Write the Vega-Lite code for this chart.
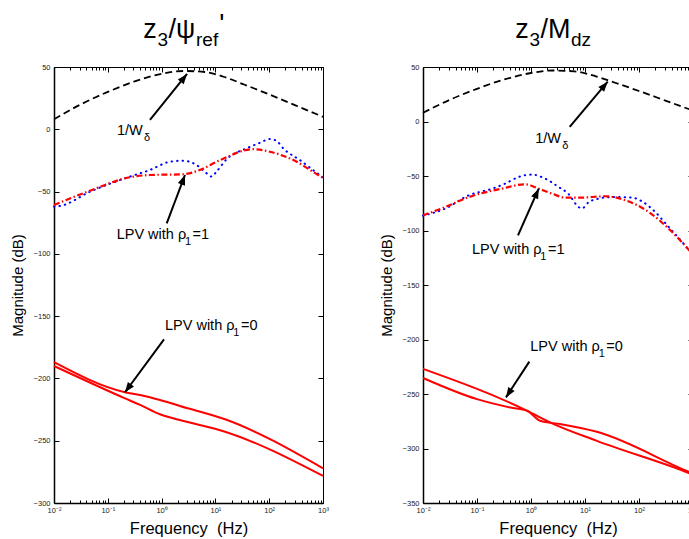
{
  "$schema": "https://vega.github.io/schema/vega-lite/v6.json",
  "background": "white",
  "padding": {"left": 10, "top": 10, "right": 0, "bottom": 0},
  "spacing": 50,
  "config": {
    "font": "Liberation Sans",
    "view": {"stroke": null},
    "axis": {"grid": false, "domainColor": "black", "tickColor": "black", "labelColor": "#222", "labelFontSize": 7.5, "labelFont": "Liberation Sans", "titleFont": "Liberation Sans", "titleFontWeight": "normal", "titleColor": "black", "labelOverlap": false, "labelFlush": false}
  },
  "datasets": {
    "left": [
      {"s": "w", "f": 0.01, "db": 8}, {"s": "w", "f": 0.03162, "db": 20}, {"s": "w", "f": 0.1, "db": 30}, {"s": "w", "f": 0.3162, "db": 38.5}, {"s": "w", "f": 1, "db": 44.5}, {"s": "w", "f": 2.512, "db": 46.8}, {"s": "w", "f": 6.31, "db": 46}, {"s": "w", "f": 15.85, "db": 41.5}, {"s": "w", "f": 31.62, "db": 36.5}, {"s": "w", "f": 100, "db": 28}, {"s": "w", "f": 316.2, "db": 19}, {"s": "w", "f": 1000, "db": 10},
      {"s": "b", "f": 0.01, "db": -62}, {"s": "b", "f": 0.01288, "db": -61.6}, {"s": "b", "f": 0.04677, "db": -50.1}, {"s": "b", "f": 0.257, "db": -38}, {"s": "b", "f": 0.6026, "db": -32.7}, {"s": "b", "f": 1.445, "db": -26}, {"s": "b", "f": 2.512, "db": -25.2}, {"s": "b", "f": 4.467, "db": -28.7}, {"s": "b", "f": 6.918, "db": -35.4}, {"s": "b", "f": 8.511, "db": -38}, {"s": "b", "f": 10.47, "db": -34}, {"s": "b", "f": 16.22, "db": -24}, {"s": "b", "f": 38.02, "db": -15.3}, {"s": "b", "f": 67.61, "db": -10.8}, {"s": "b", "f": 102.3, "db": -7.8}, {"s": "b", "f": 138, "db": -9.4}, {"s": "b", "f": 182, "db": -15.3}, {"s": "b", "f": 371.5, "db": -24.7}, {"s": "b", "f": 871, "db": -36.7}, {"s": "b", "f": 1000, "db": -38.5},
      {"s": "r", "f": 0.01, "db": -60.8}, {"s": "r", "f": 0.04677, "db": -49.3}, {"s": "r", "f": 0.257, "db": -38.5}, {"s": "r", "f": 0.6026, "db": -36.7}, {"s": "r", "f": 2.512, "db": -36.1}, {"s": "r", "f": 5.129, "db": -32.7}, {"s": "r", "f": 12.3, "db": -24.7}, {"s": "r", "f": 50.12, "db": -16}, {"s": "r", "f": 102.3, "db": -18}, {"s": "r", "f": 281.8, "db": -24.7}, {"s": "r", "f": 871, "db": -37.5}, {"s": "r", "f": 1000, "db": -39},
      {"s": "s1", "f": 0.01, "db": -187}, {"s": "s1", "f": 0.2089, "db": -211.1}, {"s": "s1", "f": 0.3981, "db": -213.3}, {"s": "s1", "f": 0.9333, "db": -217.3}, {"s": "s1", "f": 2.188, "db": -222.1}, {"s": "s1", "f": 15.14, "db": -232.8}, {"s": "s1", "f": 1000, "db": -272.2},
      {"s": "s2", "f": 0.01, "db": -190}, {"s": "s2", "f": 0.2089, "db": -216}, {"s": "s2", "f": 0.3981, "db": -221.3}, {"s": "s2", "f": 0.9333, "db": -228.8}, {"s": "s2", "f": 2.188, "db": -233.4}, {"s": "s2", "f": 15.14, "db": -242.8}, {"s": "s2", "f": 1000, "db": -278.3}
    ],
    "right": [
      {"s": "w", "f": 0.01, "db": 8}, {"s": "w", "f": 0.03162, "db": 20}, {"s": "w", "f": 0.1, "db": 30}, {"s": "w", "f": 0.3162, "db": 38.5}, {"s": "w", "f": 1, "db": 44.5}, {"s": "w", "f": 2.512, "db": 46.8}, {"s": "w", "f": 6.31, "db": 46}, {"s": "w", "f": 15.85, "db": 41.5}, {"s": "w", "f": 31.62, "db": 36.5}, {"s": "w", "f": 100, "db": 28}, {"s": "w", "f": 316.2, "db": 19}, {"s": "w", "f": 1000, "db": 10},
      {"s": "b", "f": 0.01, "db": -86.5}, {"s": "b", "f": 0.0257, "db": -79.9}, {"s": "b", "f": 0.07079, "db": -67.7}, {"s": "b", "f": 0.1905, "db": -61.6}, {"s": "b", "f": 0.3311, "db": -57}, {"s": "b", "f": 0.5888, "db": -50.9}, {"s": "b", "f": 1.047, "db": -48.7}, {"s": "b", "f": 1.82, "db": -52.4}, {"s": "b", "f": 3.236, "db": -60}, {"s": "b", "f": 5.012, "db": -66.8}, {"s": "b", "f": 7.079, "db": -76.9}, {"s": "b", "f": 8.71, "db": -79.9}, {"s": "b", "f": 11.75, "db": -73.9}, {"s": "b", "f": 17.78, "db": -70.8}, {"s": "b", "f": 31.62, "db": -69.3}, {"s": "b", "f": 74.13, "db": -69.8}, {"s": "b", "f": 104.7, "db": -72.3}, {"s": "b", "f": 199.5, "db": -83}, {"s": "b", "f": 354.8, "db": -96.8}, {"s": "b", "f": 631, "db": -110.6}, {"s": "b", "f": 912, "db": -119.8}, {"s": "b", "f": 1000, "db": -122},
      {"s": "r", "f": 0.01, "db": -86.1}, {"s": "r", "f": 0.0257, "db": -78.5}, {"s": "r", "f": 0.07079, "db": -69.3}, {"s": "r", "f": 0.2884, "db": -61.6}, {"s": "r", "f": 0.7762, "db": -57.6}, {"s": "r", "f": 1.38, "db": -61.6}, {"s": "r", "f": 2.455, "db": -66.2}, {"s": "r", "f": 4.365, "db": -69.9}, {"s": "r", "f": 7.586, "db": -69.9}, {"s": "r", "f": 23.99, "db": -68.6}, {"s": "r", "f": 56.23, "db": -72.3}, {"s": "r", "f": 151.4, "db": -83}, {"s": "r", "f": 354.8, "db": -98.3}, {"s": "r", "f": 912, "db": -119.8}, {"s": "r", "f": 1000, "db": -122},
      {"s": "s1", "f": 0.01, "db": -227}, {"s": "s1", "f": 0.8511, "db": -265.4}, {"s": "s1", "f": 2.291, "db": -276.2}, {"s": "s1", "f": 16.6, "db": -293}, {"s": "s1", "f": 891.3, "db": -323}, {"s": "s1", "f": 1000, "db": -324},
      {"s": "s2", "f": 0.01, "db": -235.3}, {"s": "s2", "f": 0.1, "db": -254.7}, {"s": "s2", "f": 0.4169, "db": -262.4}, {"s": "s2", "f": 0.8511, "db": -265.4}, {"s": "s2", "f": 1.479, "db": -274.6}, {"s": "s2", "f": 3.467, "db": -277.6}, {"s": "s2", "f": 16.6, "db": -284.7}, {"s": "s2", "f": 891.3, "db": -322}, {"s": "s2", "f": 1000, "db": -323}
    ]
  },
  "hconcat": [
    {
      "width": 269, "height": 436,
      "resolve": {"axis": {"x": "independent", "y": "independent"}},
      "layer": [
        {
          "data": {"name": "left"}, "transform": [{"filter": "datum.s == 'w'"}],
          "mark": {"type": "line", "color": "black", "strokeDash": [7, 4], "strokeWidth": 1.8, "interpolate": "monotone"},
          "encoding": {
            "x": {"field": "f", "type": "quantitative", "scale": {"type": "log", "domain": [0.01, 1000], "nice": false},
              "axis": {"values": [0.01,0.02,0.03,0.04,0.05,0.06,0.07,0.08,0.09,0.1,0.2,0.3,0.4,0.5,0.6,0.7,0.8,0.9,1,2,3,4,5,6,7,8,9,10,20,30,40,50,60,70,80,90,100,200,300,400,500,600,700,800,900,1000],
                "labelExpr": "abs(log(datum.value)/LN10 - round(log(datum.value)/LN10)) < 0.001 ? ['10⁻²','10⁻¹','10⁰','10¹','10²','10³'][round(log(datum.value)/LN10)+2] : ''",
                "tickSize": {"condition": {"test": "abs(log(datum.value)/LN10 - round(log(datum.value)/LN10)) < 0.001", "value": -5}, "value": -3},
                "labelPadding": 8, "domainWidth": 1.5, "title": "Frequency\u00a0 (Hz)", "titleFontSize": 16.5, "titlePadding": 5}},
            "y": {"field": "db", "type": "quantitative", "scale": {"domain": [-300, 50], "nice": false, "zero": false},
              "axis": {"values": [-300,-250,-200,-150,-100,-50,0,50], "tickSize": -5, "labelPadding": 9, "domainWidth": 1.5, "title": "Magnitude (dB)", "titleFontSize": 15, "titlePadding": 8}}
          }
        },
        {
          "data": {"name": "left"}, "transform": [{"filter": "datum.s == 'b'"}],
          "mark": {"type": "line", "color": "#0000ff", "strokeDash": [0.5, 5], "strokeCap": "round", "strokeWidth": 2, "interpolate": "monotone"},
          "encoding": {
            "x": {"field": "f", "type": "quantitative", "scale": {"type": "log", "domain": [0.01, 1000], "nice": false},
              "axis": {"orient": "top", "values": [0.01,0.02,0.03,0.04,0.05,0.06,0.07,0.08,0.09,0.1,0.2,0.3,0.4,0.5,0.6,0.7,0.8,0.9,1,2,3,4,5,6,7,8,9,10,20,30,40,50,60,70,80,90,100,200,300,400,500,600,700,800,900,1000],
                "labels": false, "title": null, "domainWidth": 1,
                "tickSize": {"condition": {"test": "abs(log(datum.value)/LN10 - round(log(datum.value)/LN10)) < 0.001", "value": -5}, "value": -3}}},
            "y": {"field": "db", "type": "quantitative", "scale": {"domain": [-300, 50], "nice": false, "zero": false},
              "axis": {"orient": "right", "values": [-300,-250,-200,-150,-100,-50,0,50], "labels": false, "title": null, "tickSize": -5, "domainWidth": 1}}
          }
        },
        {
          "data": {"name": "left"}, "transform": [{"filter": "datum.s == 'r'"}],
          "mark": {"type": "line", "color": "#ff0000", "strokeDash": [6, 2.5, 1.5, 2.5], "strokeWidth": 2.2, "interpolate": "monotone"},
          "encoding": {
            "x": {"field": "f", "type": "quantitative", "scale": {"type": "log", "domain": [0.01, 1000], "nice": false}, "axis": null},
            "y": {"field": "db", "type": "quantitative", "scale": {"domain": [-300, 50], "nice": false, "zero": false}, "axis": null}
          }
        },
        {
          "data": {"name": "left"}, "transform": [{"filter": "datum.s == 's1' || datum.s == 's2'"}],
          "mark": {"type": "line", "color": "#ff0000", "strokeWidth": 2, "interpolate": "monotone"},
          "encoding": {
            "x": {"field": "f", "type": "quantitative", "scale": {"type": "log", "domain": [0.01, 1000], "nice": false}, "axis": null},
            "y": {"field": "db", "type": "quantitative", "scale": {"domain": [-300, 50], "nice": false, "zero": false}, "axis": null},
            "detail": {"field": "s"}
          }
        },
        {
          "data": {"values": [{"f": 0.608, "db": 7.5, "f2": 2.97, "db2": 44.4}, {"f": 1.245, "db": -75.5, "f2": 2.72, "db2": -36.7}, {"f": 1.109, "db": -168.6, "f2": 0.209, "db2": -211.1}]},
          "mark": {"type": "rule", "color": "black", "strokeWidth": 2},
          "encoding": {
            "x": {"field": "f", "type": "quantitative", "scale": {"type": "log", "domain": [0.01, 1000], "nice": false}, "axis": null},
            "x2": {"field": "f2"},
            "y": {"field": "db", "type": "quantitative", "scale": {"domain": [-300, 50], "nice": false, "zero": false}, "axis": null},
            "y2": {"field": "db2"}
          }
        },
        {
          "data": {"values": [{"f": 2.97, "db": 44.4}]},
          "mark": {"type": "point", "shape": "M0,0L0.38,1L-0.38,1Z", "size": 400, "filled": true, "color": "black", "opacity": 1, "angle": 38.8},
          "encoding": {
            "x": {"field": "f", "type": "quantitative", "scale": {"type": "log", "domain": [0.01, 1000], "nice": false}, "axis": null},
            "y": {"field": "db", "type": "quantitative", "scale": {"domain": [-300, 50], "nice": false, "zero": false}, "axis": null}
          }
        },
        {
          "data": {"values": [{"f": 2.72, "db": -36.7}]},
          "mark": {"type": "point", "shape": "M0,0L0.38,1L-0.38,1Z", "size": 400, "filled": true, "color": "black", "opacity": 1, "angle": 20.8},
          "encoding": {
            "x": {"field": "f", "type": "quantitative", "scale": {"type": "log", "domain": [0.01, 1000], "nice": false}, "axis": null},
            "y": {"field": "db", "type": "quantitative", "scale": {"domain": [-300, 50], "nice": false, "zero": false}, "axis": null}
          }
        },
        {
          "data": {"values": [{"f": 0.209, "db": -211.1}]},
          "mark": {"type": "point", "shape": "M0,0L0.38,1L-0.38,1Z", "size": 400, "filled": true, "color": "black", "opacity": 1, "angle": 216.3},
          "encoding": {
            "x": {"field": "f", "type": "quantitative", "scale": {"type": "log", "domain": [0.01, 1000], "nice": false}, "axis": null},
            "y": {"field": "db", "type": "quantitative", "scale": {"domain": [-300, 50], "nice": false, "zero": false}, "axis": null}
          }
        },
        {
          "data": {"values": [{"f": 0.148, "db": -4.6, "t": "1/W"}, {"f": 0.146, "db": -88.1, "t": "LPV with ρ"}, {"f": 3.75, "db": -88.1, "t": "=1"}, {"f": 1.156, "db": -160.9, "t": "LPV with ρ"}, {"f": 29.9, "db": -160.9, "t": "=0"}]},
          "mark": {"type": "text", "align": "left", "baseline": "alphabetic", "fontSize": 14.5, "color": "black", "font": "Liberation Sans"},
          "encoding": {
            "x": {"field": "f", "type": "quantitative", "scale": {"type": "log", "domain": [0.01, 1000], "nice": false}, "axis": null},
            "y": {"field": "db", "type": "quantitative", "scale": {"domain": [-300, 50], "nice": false, "zero": false}, "axis": null},
            "text": {"field": "t"}
          }
        },
        {
          "data": {"values": [{"f": 0.471, "db": -9.4, "t": "δ"}, {"f": 2.72, "db": -92.9, "t": "1"}, {"f": 21.5, "db": -165.7, "t": "1"}]},
          "mark": {"type": "text", "align": "left", "baseline": "alphabetic", "fontSize": 11, "color": "black", "font": "Liberation Sans"},
          "encoding": {
            "x": {"field": "f", "type": "quantitative", "scale": {"type": "log", "domain": [0.01, 1000], "nice": false}, "axis": null},
            "y": {"field": "db", "type": "quantitative", "scale": {"domain": [-300, 50], "nice": false, "zero": false}, "axis": null},
            "text": {"field": "t"}
          }
        },
        {
          "data": {"values": [{"f": 0.457, "db": 73.3, "t": "z"}, {"f": 1.343, "db": 73.3, "t": "/ψ"}, {"f": 11.8, "db": 77.3, "t": "'"}]},
          "mark": {"type": "text", "align": "left", "baseline": "alphabetic", "fontSize": 27, "color": "black", "font": "Liberation Sans"},
          "encoding": {
            "x": {"field": "f", "type": "quantitative", "scale": {"type": "log", "domain": [0.01, 1000], "nice": false}, "axis": null},
            "y": {"field": "db", "type": "quantitative", "scale": {"domain": [-300, 50], "nice": false, "zero": false}, "axis": null},
            "text": {"field": "t"}
          }
        },
        {
          "data": {"values": [{"f": 0.839, "db": 66.9, "t": "3"}, {"f": 4.36, "db": 66.9, "t": "ref"}]},
          "mark": {"type": "text", "align": "left", "baseline": "alphabetic", "fontSize": 19, "color": "black", "font": "Liberation Sans"},
          "encoding": {
            "x": {"field": "f", "type": "quantitative", "scale": {"type": "log", "domain": [0.01, 1000], "nice": false}, "axis": null},
            "y": {"field": "db", "type": "quantitative", "scale": {"domain": [-300, 50], "nice": false, "zero": false}, "axis": null},
            "text": {"field": "t"}
          }
        }
      ]
    },
    {
      "width": 270, "height": 436,
      "resolve": {"axis": {"x": "independent", "y": "independent"}},
      "layer": [
        {
          "data": {"name": "right"}, "transform": [{"filter": "datum.s == 'w'"}],
          "mark": {"type": "line", "color": "black", "strokeDash": [7, 4], "strokeWidth": 1.8, "interpolate": "monotone"},
          "encoding": {
            "x": {"field": "f", "type": "quantitative", "scale": {"type": "log", "domain": [0.01, 1000], "nice": false},
              "axis": {"values": [0.01,0.02,0.03,0.04,0.05,0.06,0.07,0.08,0.09,0.1,0.2,0.3,0.4,0.5,0.6,0.7,0.8,0.9,1,2,3,4,5,6,7,8,9,10,20,30,40,50,60,70,80,90,100,200,300,400,500,600,700,800,900,1000],
                "labelExpr": "abs(log(datum.value)/LN10 - round(log(datum.value)/LN10)) < 0.001 ? ['10⁻²','10⁻¹','10⁰','10¹','10²','10³'][round(log(datum.value)/LN10)+2] : ''",
                "tickSize": {"condition": {"test": "abs(log(datum.value)/LN10 - round(log(datum.value)/LN10)) < 0.001", "value": -5}, "value": -3},
                "labelPadding": 8, "domainWidth": 1.5, "title": "Frequency\u00a0 (Hz)", "titleFontSize": 16.5, "titlePadding": 5}},
            "y": {"field": "db", "type": "quantitative", "scale": {"domain": [-350, 50], "nice": false, "zero": false},
              "axis": {"values": [-350,-300,-250,-200,-150,-100,-50,0,50], "tickSize": -5, "labelPadding": 9, "domainWidth": 1.5, "title": "Magnitude (dB)", "titleFontSize": 15, "titlePadding": 8}}
          }
        },
        {
          "data": {"name": "right"}, "transform": [{"filter": "datum.s == 'b'"}],
          "mark": {"type": "line", "color": "#0000ff", "strokeDash": [0.5, 5], "strokeCap": "round", "strokeWidth": 2, "interpolate": "monotone"},
          "encoding": {
            "x": {"field": "f", "type": "quantitative", "scale": {"type": "log", "domain": [0.01, 1000], "nice": false},
              "axis": {"orient": "top", "values": [0.01,0.02,0.03,0.04,0.05,0.06,0.07,0.08,0.09,0.1,0.2,0.3,0.4,0.5,0.6,0.7,0.8,0.9,1,2,3,4,5,6,7,8,9,10,20,30,40,50,60,70,80,90,100,200,300,400,500,600,700,800,900,1000],
                "labels": false, "title": null, "domainWidth": 1,
                "tickSize": {"condition": {"test": "abs(log(datum.value)/LN10 - round(log(datum.value)/LN10)) < 0.001", "value": -5}, "value": -3}}},
            "y": {"field": "db", "type": "quantitative", "scale": {"domain": [-350, 50], "nice": false, "zero": false},
              "axis": {"orient": "right", "values": [-350,-300,-250,-200,-150,-100,-50,0,50], "labels": false, "title": null, "tickSize": -5, "domainWidth": 1}}
          }
        },
        {
          "data": {"name": "right"}, "transform": [{"filter": "datum.s == 'r'"}],
          "mark": {"type": "line", "color": "#ff0000", "strokeDash": [6, 2.5, 1.5, 2.5], "strokeWidth": 2.2, "interpolate": "monotone"},
          "encoding": {
            "x": {"field": "f", "type": "quantitative", "scale": {"type": "log", "domain": [0.01, 1000], "nice": false}, "axis": null},
            "y": {"field": "db", "type": "quantitative", "scale": {"domain": [-350, 50], "nice": false, "zero": false}, "axis": null}
          }
        },
        {
          "data": {"name": "right"}, "transform": [{"filter": "datum.s == 's1' || datum.s == 's2'"}],
          "mark": {"type": "line", "color": "#ff0000", "strokeWidth": 2, "interpolate": "monotone"},
          "encoding": {
            "x": {"field": "f", "type": "quantitative", "scale": {"type": "log", "domain": [0.01, 1000], "nice": false}, "axis": null},
            "y": {"field": "db", "type": "quantitative", "scale": {"domain": [-350, 50], "nice": false, "zero": false}, "axis": null},
            "detail": {"field": "s"}
          }
        },
        {
          "data": {"values": [{"f": 5.21, "db": -4.9, "f2": 26.3, "db2": 36.5}, {"f": 0.574, "db": -104.5, "f2": 1.39, "db2": -61.6}, {"f": 0.931, "db": -220.3, "f2": 0.344, "db2": -253.1}]},
          "mark": {"type": "rule", "color": "black", "strokeWidth": 2},
          "encoding": {
            "x": {"field": "f", "type": "quantitative", "scale": {"type": "log", "domain": [0.01, 1000], "nice": false}, "axis": null},
            "x2": {"field": "f2"},
            "y": {"field": "db", "type": "quantitative", "scale": {"domain": [-350, 50], "nice": false, "zero": false}, "axis": null},
            "y2": {"field": "db2"}
          }
        },
        {
          "data": {"values": [{"f": 26.3, "db": 36.5}]},
          "mark": {"type": "point", "shape": "M0,0L0.38,1L-0.38,1Z", "size": 400, "filled": true, "color": "black", "opacity": 1, "angle": 40.2},
          "encoding": {
            "x": {"field": "f", "type": "quantitative", "scale": {"type": "log", "domain": [0.01, 1000], "nice": false}, "axis": null},
            "y": {"field": "db", "type": "quantitative", "scale": {"domain": [-350, 50], "nice": false, "zero": false}, "axis": null}
          }
        },
        {
          "data": {"values": [{"f": 1.39, "db": -61.6}]},
          "mark": {"type": "point", "shape": "M0,0L0.38,1L-0.38,1Z", "size": 400, "filled": true, "color": "black", "opacity": 1, "angle": 23.9},
          "encoding": {
            "x": {"field": "f", "type": "quantitative", "scale": {"type": "log", "domain": [0.01, 1000], "nice": false}, "axis": null},
            "y": {"field": "db", "type": "quantitative", "scale": {"domain": [-350, 50], "nice": false, "zero": false}, "axis": null}
          }
        },
        {
          "data": {"values": [{"f": 0.344, "db": -253.1}]},
          "mark": {"type": "point", "shape": "M0,0L0.38,1L-0.38,1Z", "size": 400, "filled": true, "color": "black", "opacity": 1, "angle": 213.1},
          "encoding": {
            "x": {"field": "f", "type": "quantitative", "scale": {"type": "log", "domain": [0.01, 1000], "nice": false}, "axis": null},
            "y": {"field": "db", "type": "quantitative", "scale": {"domain": [-350, 50], "nice": false, "zero": false}, "axis": null}
          }
        },
        {
          "data": {"values": [{"f": 1.2, "db": -19.9, "t": "1/W"}, {"f": 0.0807, "db": -121.3, "t": "LPV with ρ"}, {"f": 2.07, "db": -121.3, "t": "=1"}, {"f": 0.97, "db": -210.2, "t": "LPV with ρ"}, {"f": 24.8, "db": -210.2, "t": "=0"}]},
          "mark": {"type": "text", "align": "left", "baseline": "alphabetic", "fontSize": 14.5, "color": "black", "font": "Liberation Sans"},
          "encoding": {
            "x": {"field": "f", "type": "quantitative", "scale": {"type": "log", "domain": [0.01, 1000], "nice": false}, "axis": null},
            "y": {"field": "db", "type": "quantitative", "scale": {"domain": [-350, 50], "nice": false, "zero": false}, "axis": null},
            "text": {"field": "t"}
          }
        },
        {
          "data": {"values": [{"f": 3.8, "db": -25.4, "t": "δ"}, {"f": 1.486, "db": -126.8, "t": "1"}, {"f": 17.9, "db": -215.7, "t": "1"}]},
          "mark": {"type": "text", "align": "left", "baseline": "alphabetic", "fontSize": 11, "color": "black", "font": "Liberation Sans"},
          "encoding": {
            "x": {"field": "f", "type": "quantitative", "scale": {"type": "log", "domain": [0.01, 1000], "nice": false}, "axis": null},
            "y": {"field": "db", "type": "quantitative", "scale": {"domain": [-350, 50], "nice": false, "zero": false}, "axis": null},
            "text": {"field": "t"}
          }
        },
        {
          "data": {"values": [{"f": 0.512, "db": 76.7, "t": "z"}, {"f": 1.5, "db": 76.7, "t": "/M"}]},
          "mark": {"type": "text", "align": "left", "baseline": "alphabetic", "fontSize": 27, "color": "black", "font": "Liberation Sans"},
          "encoding": {
            "x": {"field": "f", "type": "quantitative", "scale": {"type": "log", "domain": [0.01, 1000], "nice": false}, "axis": null},
            "y": {"field": "db", "type": "quantitative", "scale": {"domain": [-350, 50], "nice": false, "zero": false}, "axis": null},
            "text": {"field": "t"}
          }
        },
        {
          "data": {"values": [{"f": 0.937, "db": 69.3, "t": "3"}, {"f": 5.51, "db": 69.3, "t": "dz"}]},
          "mark": {"type": "text", "align": "left", "baseline": "alphabetic", "fontSize": 19, "color": "black", "font": "Liberation Sans"},
          "encoding": {
            "x": {"field": "f", "type": "quantitative", "scale": {"type": "log", "domain": [0.01, 1000], "nice": false}, "axis": null},
            "y": {"field": "db", "type": "quantitative", "scale": {"domain": [-350, 50], "nice": false, "zero": false}, "axis": null},
            "text": {"field": "t"}
          }
        }
      ]
    }
  ]
}
